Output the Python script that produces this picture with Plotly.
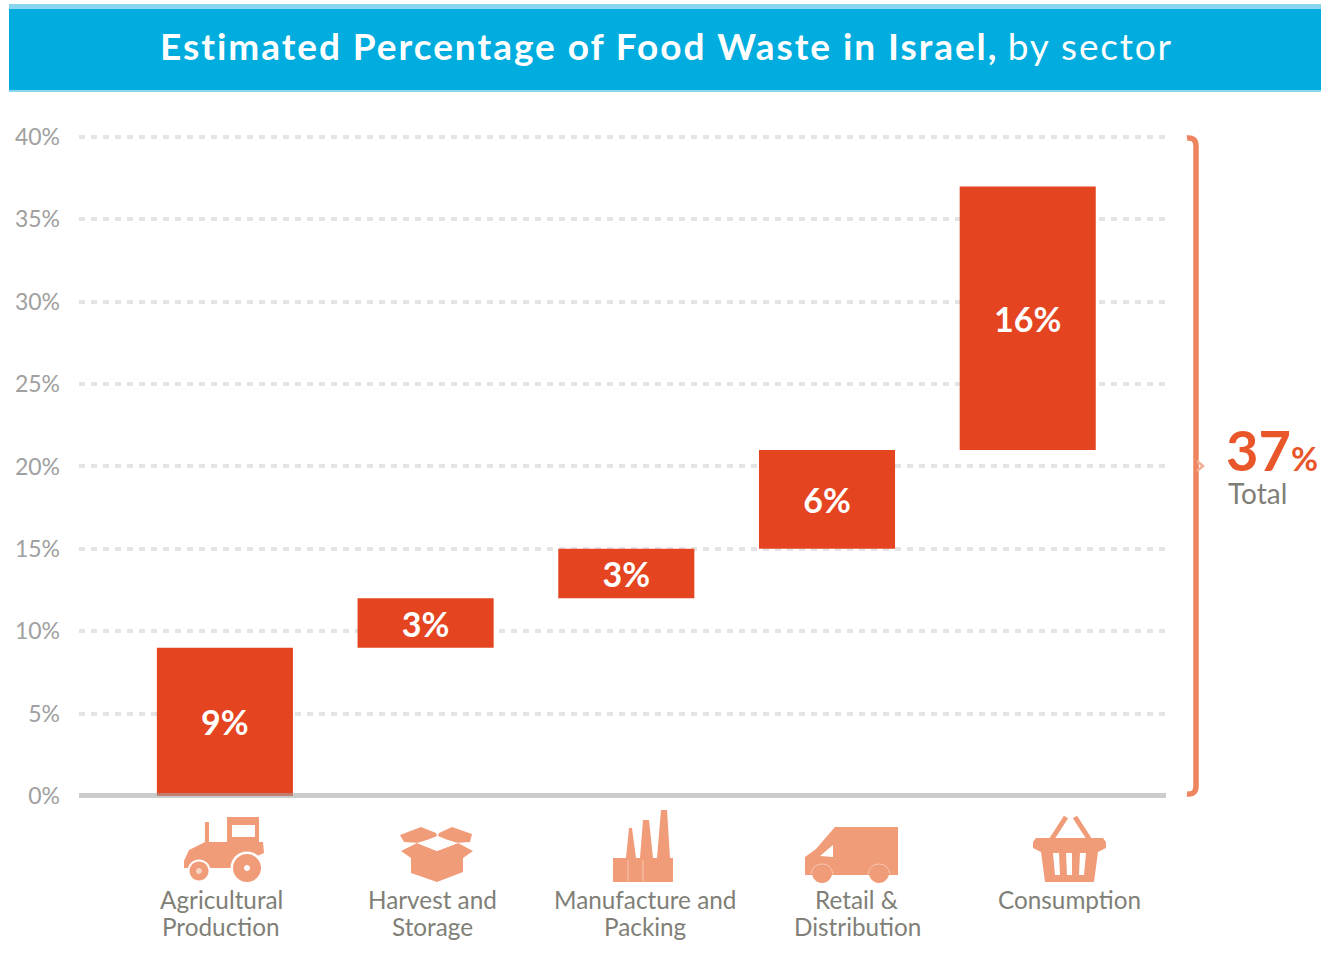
import re
import plotly.graph_objects as go

# Sector data
sectors = ["Agricultural<br>Production", "Harvest and<br>Storage", "Manufacture and<br>Packing",
           "Retail &<br>Distribution", "Consumption"]
waste_pct = [9, 3, 3, 6, 16]
base_pct = [0, 9, 12, 15, 21]
y_ticks = [0, 5, 10, 15, 20, 25, 30, 35, 40]
y_labels = ["0%", "5%", "10%", "15%", "20%", "25%", "30%", "35%", "40%"]
total_pct = 37
title_bold = "Estimated Percentage of Food Waste in Israel,"
title_light = "by sector"

# Page geometry in pixels; the plot area runs slightly past 40 so its gridline is kept
W, H = 1321, 956
L, R, T, B = 79, 1166, 135, 796
Y_TOP = 40.12
FONT = "Lato"
RED = "#E44420"
ORANGE = "#F19C78"
TEXT = "#7F7F78"


def fx(x):
    return (x - L) / (R - L)


def fy(y):
    return (B - y) / (B - T)


def to_paper(path):
    """Convert an SVG path written in page pixels to paper coordinates."""
    return re.sub(r"(-?[\d.]+),(-?[\d.]+)",
                  lambda m: f"{fx(float(m[1])):.5f},{fy(float(m[2])):.5f}", path)


def solid(path, color=ORANGE):
    return dict(type="path", xref="paper", yref="paper", path=to_paper(path),
                fillcolor=color, line=dict(width=0), layer="above")


def stroke(path, color=ORANGE, width=5):
    return dict(type="path", xref="paper", yref="paper", path=to_paper(path),
                line=dict(color=color, width=width), layer="above")


def poly(*pts):
    return "M" + " L".join(f"{x},{y}" for x, y in pts) + " Z"


def circle(cx, cy, r):
    k = 0.5523 * r
    return (f"M{cx - r},{cy} C{cx - r},{cy - k} {cx - k},{cy - r} {cx},{cy - r} "
            f"C{cx + k},{cy - r} {cx + r},{cy - k} {cx + r},{cy} "
            f"C{cx + r},{cy + k} {cx + k},{cy + r} {cx},{cy + r} "
            f"C{cx - k},{cy + r} {cx - r},{cy + k} {cx - r},{cy} Z")


shapes = [
    # Header band
    dict(type="rect", xref="paper", yref="paper", x0=fx(9), x1=fx(1321), y0=fy(92), y1=fy(4),
         fillcolor="#8AD6EF", line=dict(width=0), layer="above"),
    dict(type="rect", xref="paper", yref="paper", x0=fx(9), x1=fx(1321), y0=fy(90), y1=fy(9),
         fillcolor="#00ADDE", line=dict(width=0), layer="above"),
    # Baseline, tinting the foot of the first bar
    dict(type="line", xref="paper", yref="paper", x0=fx(79), x1=fx(1166), y0=fy(795.5), y1=fy(795.5),
         line=dict(color="rgba(165,167,167,0.58)", width=5), layer="above"),
    # Brace spanning the whole scale
    stroke("M1187,138 Q1196,137 1196,146 L1196,786 Q1196,795 1187,794", "#EE8560", 5.5),
    stroke("M1197,461 L1203,466 L1197,471", "#F4AE94", 2.5),
]

# Tractor
shapes += [
    solid(poly((227, 817), (259, 817), (259, 842), (263, 842), (264, 853), (231, 868), (184, 868),
               (184, 861), (189, 850), (205, 842), (227, 842))),
    solid(poly((205, 822), (209, 822), (209, 843), (205, 843))),
    solid(poly((232, 825), (255, 825), (255, 837), (232, 837)), "#FFFFFF"),
    solid(circle(247, 868, 16.5), "#FFFFFF"),
    solid(circle(247, 868, 14)),
    solid(circle(247, 868, 3), "#FFFFFF"),
    solid(circle(199, 871, 11.5), "#FFFFFF"),
    solid(circle(199, 871, 9.5)),
    solid(circle(199, 871, 3), "#F9D5C5"),
]

# Open box
shapes += [
    solid(poly((400, 835), (421, 827), (436, 833), (437, 836), (420, 843), (404, 842))),
    solid(poly((438, 836), (439, 833), (452, 827), (472, 834), (470, 842), (455, 843))),
    solid(poly((417, 843), (437, 851), (458, 843), (473, 851), (463, 858), (463, 872),
               (437, 882), (411, 873), (411, 858), (401, 851))),
    solid(poly((417, 843), (437, 837), (458, 843), (437, 851)), "#FFFFFF"),
]

# Factory
shapes += [
    solid(poly((613, 858), (626, 858), (629, 828), (632, 828), (636, 858), (640, 858), (643, 820),
               (649, 820), (653, 858), (657, 858), (661, 810), (667, 810), (670, 858), (673, 858),
               (673, 882), (613, 882))),
    stroke("M643,860 L643,881", "#F7C6B0", 1),
    stroke("M628,860 L628,881", "#F7C6B0", 1),
]

# Delivery van
shapes += [
    solid(poly((835, 827), (898, 827), (898, 875), (805, 875), (805, 857), (816, 849))),
    solid(circle(822, 873, 10)),
    solid(circle(879, 873, 10)),
    stroke("M868,874 Q870,864 879,864 Q888,864 890,874", "#F7C6B0", 1),
    stroke("M811,874 Q813,864 822,864 Q831,864 833,874", "#F7C6B0", 1),
    solid(poly((833, 845), (833, 857), (820, 856)), "#FFFFFF"),
]

# Shopping basket
shapes += [
    solid(poly((1036, 838), (1103, 838), (1106, 842), (1106, 848), (1098, 852), (1094, 882),
               (1045, 882), (1041, 852), (1033, 848), (1033, 842))),
    solid(poly((1053, 853), (1059, 853), (1060, 875), (1055, 875)), "#FFFFFF"),
    solid(poly((1066, 853), (1072, 853), (1072, 875), (1067, 875)), "#FFFFFF"),
    solid(poly((1080, 853), (1086, 853), (1084, 875), (1079, 875)), "#FFFFFF"),
    stroke("M1066,817 L1048,845", "#F19C78", 5),
    stroke("M1075,817 L1093,845", "#F19C78", 5),
]

annotations = [
    dict(text=(f"<span style='letter-spacing:1.95px'><b>{title_bold}</b></span> "
               f"<span style='letter-spacing:1.8px'>{title_light}</span>"),
         x=fx(666), y=fy(45), font=dict(size=37, color="#FFFFFF")),
    dict(text=f"<b>{total_pct}<span style='font-size:33px'>%</span></b>", x=fx(1224), y=fy(449), xanchor="left",
         font=dict(size=56, color="#E8562A")),
    dict(text="Total", x=fx(1226), y=fy(493), xanchor="left", font=dict(size=28, color=TEXT)),
]

# Sector captions under the icons
caption_x = [221, 432, 645, 857, 1069]
for name, cx in zip(sectors, caption_x):
    for row, line in enumerate(name.split("<br>")):
        annotations.append(dict(text=line, x=fx(cx), y=fy(899 + row * 27), font=dict(size=24.3, color=TEXT)))

for a in annotations:
    a.update(xref="paper", yref="paper", showarrow=False)
    a.setdefault("xanchor", "center")
    a.setdefault("yanchor", "middle")

fig = go.Figure(go.Bar(
    x=sectors, y=waste_pct, base=base_pct, width=0.678,
    marker=dict(color=RED, line=dict(width=0)),
    text=[f"{v}%" for v in waste_pct], textposition="inside", insidetextanchor="middle",
    textangle=0, constraintext="none",
    textfont=dict(family=FONT, size=34, color="#FFFFFF", weight="bold"),
    hoverinfo="skip",
))

fig.update_layout(
    width=W, height=H, autosize=False,
    margin=dict(l=L, r=W - R, t=T, b=H - B, pad=0),
    paper_bgcolor="#FFFFFF", plot_bgcolor="#FFFFFF",
    font=dict(family=FONT),
    showlegend=False,
    shapes=shapes, annotations=annotations,
    xaxis=dict(range=[-0.727, 4.689], showgrid=False, zeroline=False, showline=False,
               showticklabels=False, ticks=""),
    yaxis=dict(range=[0, Y_TOP], tickvals=y_ticks, ticktext=y_labels, ticks="", ticklabelstandoff=18,
               tickfont=dict(size=23, color="#A0A0A0", family=FONT),
               showgrid=True, gridcolor="#E4E4E4", gridwidth=4, griddash="6px,6px",
               zeroline=False, showline=False),
)

fig.write_html("out.html")
